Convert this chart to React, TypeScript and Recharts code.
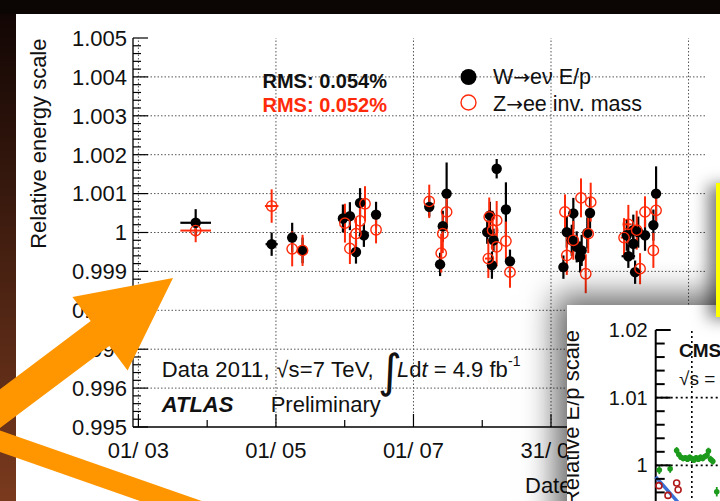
import { ScatterChart, Scatter, XAxis, YAxis, ErrorBar, ReferenceLine } from 'recharts'

const FONT = '"Liberation Sans", Arial, Helvetica, sans-serif'
const RED = '#ff2a0a'
const ORANGE = '#ff9600'

// ATLAS energy-scale stability, x = days since 01/03/2011
const W_DAY = [25.4, 59.1, 68.2, 72.8, 90.7, 93.8, 96.5, 98.3, 100.0, 105.4, 129.0, 136.7, 135.0, 133.8, 158.9, 163.0, 164.8, 154.7, 155.9, 157.5, 156.8, 192.9, 200.3, 190.0, 199.1, 192.2, 194.4, 196.6, 188.5, 195.9, 219.5, 216.6, 221.7, 224.7, 219.5, 217.3, 220.3, 228.4, 229.6]
const W_VAL = [1.00025, 0.9997, 0.99987, 0.99954, 1.00036, 1.00042, 0.9995, 1.00076, 0.99993, 1.00046, 1.00066, 1.001, 1.00016, 0.99918, 1.00164, 1.00059, 0.99926, 1.00001, 1.00044, 0.9998, 0.99916, 1.00049, 1.0005, 1.00001, 0.99999, 0.9998, 0.99963, 0.99954, 0.99911, 0.99937, 1.00006, 0.99993, 1.00001, 0.99993, 0.99971, 0.99939, 0.99898, 1.00019, 1.001]
const W_ERR = [0.00035, 0.0003, 0.00038, 0.00033, 0.00036, 0.00036, 0.0003, 0.00038, 0.0003, 0.00033, 0.00025, 0.0008, 0.0004, 0.0003, 0.00025, 0.0007, 0.0003, 0.0003, 0.00035, 0.0003, 0.00035, 0.0004, 0.0004, 0.0004, 0.0004, 0.0004, 0.0004, 0.0004, 0.0003, 0.0004, 0.0004, 0.0004, 0.0004, 0.0004, 0.0004, 0.0003, 0.0003, 0.0004, 0.0007]
const W_DERR = [6.8, 2.7, 0, 0, 2, 0, 0, 0, 0, 0, 0, 0, 0, 1.5, 0, 0, 0, 0, 0, 0, 0, 0, 0, 0, 0, 0, 0, 0, 1.5, 0, 0, 0, 0, 0, 0, 3, 0, 0, 0]

const Z_DAY = [25.4, 59.1, 68.2, 72.8, 91.6, 93.8, 96.5, 100.5, 98.3, 105.4, 129.0, 136.7, 135.0, 134.3, 163.0, 164.8, 155.6, 157.1, 158.9, 155.2, 158.9, 189.2, 196.3, 200.6, 199.5, 192.9, 190.0, 198.4, 217.3, 215.4, 224.7, 221.0, 228.4, 222.5, 229.6]
const Z_VAL = [1.00005, 1.00068, 0.99958, 0.99954, 1.00024, 0.99959, 0.99997, 1.00074, 1.0003, 1.00007, 1.0008, 1.00053, 0.99997, 0.99947, 0.99978, 0.99898, 1.0004, 1.00006, 0.99963, 0.99933, 1.00031, 1.00053, 1.00089, 1.00078, 0.99997, 0.9998, 0.99941, 0.99894, 1.00021, 0.99987, 1.00053, 1.00006, 0.99954, 0.99907, 1.00057]
const Z_ERR = [0.0003, 0.00043, 0.00045, 0.0004, 0.0005, 0.0004, 0.0004, 0.00045, 0.00045, 0.00035, 0.00043, 0.0005, 0.0005, 0.0005, 0.0005, 0.0004, 0.0005, 0.0005, 0.0005, 0.0005, 0.0005, 0.00045, 0.0005, 0.0005, 0.0005, 0.0005, 0.0005, 0.0005, 0.0005, 0.0005, 0.0004, 0.0005, 0.00045, 0.0004, 0.0004]
const Z_DERR = [6.8, 3, 0, 0, 0, 0, 0, 0, 0, 0, 0, 0, 0, 0, 0, 0, 0, 0, 0, 1.5, 0, 0, 0, 0, 0, 0, 0, 0, 1.5, 1.5, 0, 0, 0, 0, 0]

const Y_MAJOR = [0.995, 0.996, 0.997, 0.998, 0.999, 1.0, 1.001, 1.002, 1.003, 1.004, 1.005]
const Y_LABELS = ['0.995', '0.996', '0.997', '0.998', '0.999', '1', '1.001', '1.002', '1.003', '1.004', '1.005']
const X_MAJOR = [0, 61, 122, 183, 244]
const X_LABELS = ['01/ 03', '01/ 05', '01/ 07', '31/ 08', '31/ 10']

// CMS inset, x = run block index
const CMS_GREEN_X = [1.0, 4.0, 5.8, 6.4, 7.0, 7.6, 8.2, 8.8, 9.4, 10.0, 10.6, 11.2, 11.8, 12.4, 13.0, 13.6, 14.2, 14.6, 15.2, 15.8, 16.9]
const CMS_GREEN_Y = [0.9993, 0.9995, 1.0022, 1.0016, 1.0012, 1.001, 1.0011, 1.0009, 1.0012, 1.001, 1.0008, 1.0011, 1.0009, 1.0012, 1.001, 1.0013, 1.0015, 1.0021, 1.0009, 1.0006, 0.9961]
const CMS_GREEN_ERR = [0.0006, 0.0006, 0.0005, 0.0004, 0.0004, 0.0004, 0.0004, 0.0004, 0.0004, 0.0004, 0.0004, 0.0004, 0.0004, 0.0004, 0.0004, 0.0004, 0.0005, 0.0005, 0.0005, 0.0005, 0.0007]
const CMS_BLUE_X = [0, 5.6, 10]
const CMS_BLUE_Y = [0.9983, 0.9949, 0.9921]
const CMS_RED_X = [0.9, 3.4, 5.8, 6.2]
const CMS_RED_Y = [0.997, 0.99556, 0.9974, 0.9964]
const CMS_Y_MAJOR = [0.99, 1.0, 1.01, 1.02]
const CMS_Y_LABELS = ['0.99', '1', '1.01', '1.02']
const CMS_X_MAJOR = [0, 10, 20, 30, 40, 50, 60, 70, 80, 90, 100]

const wData = W_DAY.map((d, i) => ({ x: d, y: W_VAL[i], ey: W_ERR[i], ex: W_DERR[i] }))
const zData = Z_DAY.map((d, i) => ({ x: d, y: Z_VAL[i], ey: Z_ERR[i], ex: Z_DERR[i] }))
const greenData = CMS_GREEN_X.map((x, i) => ({ x, y: CMS_GREEN_Y[i], ey: CMS_GREEN_ERR[i] }))
const blueData = CMS_BLUE_X.map((x, i) => ({ x, y: CMS_BLUE_Y[i] }))
const cmsRedData = CMS_RED_X.map((x, i) => ({ x, y: CMS_RED_Y[i] }))

// major ticks plus evenly split minor ticks between them
function withMinor(major: number[], parts: number) {
  const out: number[] = []
  for (let i = 0; i < major.length - 1; i++) {
    for (let k = 0; k < parts; k++) out.push(major[i] + ((major[i + 1] - major[i]) * k) / parts)
  }
  out.push(major[major.length - 1])
  return out
}
const idx = (list: number[], v: number) => list.findIndex(m => Math.abs(m - v) < 1e-9)

const Y_TICKS = withMinor(Y_MAJOR, 5)
const X_TICKS = withMinor(X_MAJOR, 2)
const CMS_Y_TICKS = withMinor(CMS_Y_MAJOR, 5)

// ROOT-style ticks: drawn inward from the frame
const atlasLeftTick = (p: any) => {
  const i = idx(Y_MAJOR, p.payload.value)
  return (
    <g>
      <line x1={p.x} y1={p.y} x2={p.x + (i >= 0 ? 15 : 8)} y2={p.y} stroke="#000" strokeWidth={1.2} />
      {i >= 0 && (
        <text x={p.x - 6} y={p.y + 7.8} textAnchor="end" fontSize={22} fontFamily={FONT} fill="#111">
          {Y_LABELS[i]}
        </text>
      )}
    </g>
  )
}
const atlasRightTick = (p: any) => {
  const major = idx(Y_MAJOR, p.payload.value) >= 0
  return <line x1={p.x - (major ? 17 : 9)} y1={p.y} x2={p.x} y2={p.y} stroke="#000" strokeWidth={1.2} />
}
const atlasBottomTick = (p: any) => {
  const i = idx(X_MAJOR, p.payload.value)
  return (
    <g>
      <line x1={p.x} y1={p.y} x2={p.x} y2={p.y - (i >= 0 ? 13 : 7)} stroke="#000" strokeWidth={1.2} />
      {i >= 0 && (
        <text x={p.x} y={p.y + 31} textAnchor="middle" fontSize={22} fontFamily={FONT} fill="#111">
          {X_LABELS[i]}
        </text>
      )}
    </g>
  )
}
const atlasTopTick = (p: any) => {
  const major = idx(X_MAJOR, p.payload.value) >= 0
  return <line x1={p.x} y1={p.y} x2={p.x} y2={p.y + (major ? 13 : 7)} stroke="#000" strokeWidth={1.2} />
}
const cmsLeftTick = (p: any) => {
  const i = idx(CMS_Y_MAJOR, p.payload.value)
  return (
    <g>
      <line x1={p.x} y1={p.y} x2={p.x + (i >= 0 ? 15 : 9)} y2={p.y} stroke="#000" strokeWidth={2} />
      {i >= 0 && (
        <text x={p.x - 8} y={p.y + 7} textAnchor="end" fontSize={20} fontFamily={FONT} fill="#111">
          {CMS_Y_LABELS[i]}
        </text>
      )}
    </g>
  )
}
const cmsTopTick = (p: any) => <line x1={p.x} y1={p.y} x2={p.x} y2={p.y + 14} stroke="#000" strokeWidth={2} />

const blackDot = (p: any) => <circle cx={p.cx} cy={p.cy} r={5.2} fill="#000" />
const redRing = (p: any) => <circle cx={p.cx} cy={p.cy} r={5.2} fill="none" stroke={RED} strokeWidth={1.4} />
const greenDot = (p: any) => <circle cx={p.cx} cy={p.cy} r={2.8} fill="#1c9a1c" />
const darkRedRing = (p: any) => <circle cx={p.cx} cy={p.cy} r={3} fill="none" stroke="#b01a1a" strokeWidth={1.6} />
const noDot = () => <g />

function AtlasChart() {
  return (
    <ScatterChart width={720} height={501} margin={{ top: 38, right: 15, bottom: 0, left: 73 }}>
      <XAxis xAxisId="bottom" type="number" dataKey="x" domain={[-2.4, 251.3]} allowDataOverflow ticks={X_TICKS}
        interval={0} height={74} tickSize={0} tickMargin={0} tickLine={false} tick={atlasBottomTick}
        axisLine={{ stroke: '#000', strokeWidth: 1.3 }} />
      <XAxis xAxisId="top" orientation="top" type="number" dataKey="x" domain={[-2.4, 251.3]} allowDataOverflow
        ticks={X_TICKS} interval={0} height={0} tickSize={0} tickMargin={0} tickLine={false} tick={atlasTopTick}
        axisLine={{ stroke: '#000', strokeWidth: 1.3 }} />
      <YAxis yAxisId="left" type="number" dataKey="y" domain={[0.995, 1.005]} allowDataOverflow ticks={Y_TICKS}
        interval={0} width={60} tickSize={0} tickMargin={0} tickLine={false} tick={atlasLeftTick}
        axisLine={{ stroke: '#000', strokeWidth: 1.3 }} />
      <YAxis yAxisId="right" orientation="right" type="number" dataKey="y" domain={[0.995, 1.005]} allowDataOverflow
        ticks={Y_TICKS} interval={0} width={0} tickSize={0} tickMargin={0} tickLine={false} tick={atlasRightTick}
        axisLine={{ stroke: '#000', strokeWidth: 1.3 }} />
      {Y_MAJOR.slice(1, -1).map(v => (
        <ReferenceLine key={'gy' + v} xAxisId="bottom" yAxisId="left" y={v} stroke="#555" strokeDasharray="1.5 2" />
      ))}
      {X_MAJOR.map(v => (
        <ReferenceLine key={'gx' + v} xAxisId="bottom" yAxisId="left" x={v} stroke="#555" strokeDasharray="1.5 2" />
      ))}
      <Scatter data={wData} xAxisId="bottom" yAxisId="left" shape={blackDot} isAnimationActive={false}>
        <ErrorBar dataKey="ey" direction="y" width={0} stroke="#000" strokeWidth={2.2} />
        <ErrorBar dataKey="ex" direction="x" width={0} stroke="#000" strokeWidth={2.2} />
      </Scatter>
      <Scatter data={zData} xAxisId="bottom" yAxisId="left" shape={redRing} isAnimationActive={false}>
        <ErrorBar dataKey="ey" direction="y" width={0} stroke={RED} strokeWidth={2} />
        <ErrorBar dataKey="ex" direction="x" width={0} stroke={RED} strokeWidth={2} />
      </Scatter>
    </ScatterChart>
  )
}

function CmsChart() {
  return (
    <ScatterChart width={460} height={260} margin={{ top: 25, right: 10, bottom: 0, left: 28.7 }}>
      <XAxis xAxisId="bottom" type="number" dataKey="x" domain={[0, 100]} ticks={CMS_X_MAJOR} interval={0}
        height={32} tick={false} axisLine={{ stroke: '#000', strokeWidth: 2 }} />
      <XAxis xAxisId="top" orientation="top" type="number" dataKey="x" domain={[0, 100]} ticks={CMS_X_MAJOR}
        interval={0} height={0} tickSize={0} tickMargin={0} tickLine={false} tick={cmsTopTick}
        axisLine={{ stroke: '#000', strokeWidth: 2 }} />
      <YAxis yAxisId="left" type="number" dataKey="y" domain={[0.99, 1.02]} allowDataOverflow ticks={CMS_Y_TICKS}
        interval={0} width={60} tickSize={0} tickMargin={0} tickLine={false} tick={cmsLeftTick}
        axisLine={{ stroke: '#000', strokeWidth: 2 }} />
      {CMS_Y_MAJOR.slice(1, -1).map(v => (
        <ReferenceLine key={'cy' + v} xAxisId="bottom" yAxisId="left" y={v} stroke="#000" strokeWidth={1.6} strokeDasharray="2 3" />
      ))}
      {CMS_X_MAJOR.slice(1, -1).map(v => (
        <ReferenceLine key={'cx' + v} xAxisId="bottom" yAxisId="left" x={v} stroke="#000" strokeWidth={1.6} strokeDasharray="2 3" />
      ))}
      <Scatter data={blueData} xAxisId="bottom" yAxisId="left" line={{ stroke: '#3a6fd6', strokeWidth: 3.5 }}
        shape={noDot} isAnimationActive={false} />
      <Scatter data={cmsRedData} xAxisId="bottom" yAxisId="left" shape={darkRedRing} isAnimationActive={false} />
      <Scatter data={greenData} xAxisId="bottom" yAxisId="left" shape={greenDot} isAnimationActive={false}>
        <ErrorBar dataKey="ey" direction="y" width={0} stroke="#1c9a1c" strokeWidth={1.8} />
      </Scatter>
    </ScatterChart>
  )
}

export default function App() {
  return (
    <div style={{ position: 'absolute', left: 0, top: 0, width: 720, height: 501, overflow: 'hidden', background: '#0b0604', fontFamily: FONT }}>
      <div style={{ position: 'absolute', left: 0, top: 14, width: 16, height: 487, background: 'linear-gradient(to bottom, #120604, #7a3a1e)' }} />
      <div style={{ position: 'absolute', left: 16, top: 14, right: 0, bottom: 0, background: '#fff' }} />

      <div style={{ position: 'absolute', left: 0, top: 0 }}>
        <AtlasChart />
      </div>

      {/* labels and legend of the ATLAS plot */}
      <svg width={720} height={501} style={{ position: 'absolute', left: 0, top: 0, pointerEvents: 'none' }} fontFamily={FONT}>
        <text transform="translate(46,38.5) rotate(-90)" textAnchor="end" fontSize={22} fill="#111">Relative energy scale</text>
        <text x={262.5} y={88.3} fontSize={20} fontWeight="bold" fill="#111">RMS: 0.054%</text>
        <text x={262.5} y={111.7} fontSize={20} fontWeight="bold" fill={RED}>RMS: 0.052%</text>
        <circle cx={468.5} cy={77} r={8} fill="#000" />
        <circle cx={468.5} cy={102.5} r={7.5} fill="none" stroke={RED} strokeWidth={1.4} />
        <text x={493} y={84} fontSize={21.5} fill="#111">
          W<tspan fontFamily="DejaVu Sans" fontSize={20}>→</tspan>eν E/p
        </text>
        <text x={493} y={110.5} fontSize={21.5} fill="#111">
          Z<tspan fontFamily="DejaVu Sans" fontSize={20}>→</tspan>ee inv. mass
        </text>
        <text x={161.7} y={376.7} fontSize={22} fill="#111" textLength={212} lengthAdjust="spacing">Data 2011, √s=7 TeV,</text>
        <text x={378} y={387} fontSize={46} fontFamily="DejaVu Sans" fill="#111">∫</text>
        <text x={397} y={376.7} fontSize={22} fill="#111">
          <tspan fontStyle="italic">L</tspan>d<tspan fontStyle="italic">t</tspan> = 4.9 fb
        </text>
        <text x={508} y={366} fontSize={14} fill="#111">-1</text>
        <text x={161.7} y={411.7} fontSize={22} fontWeight="bold" fontStyle="italic" fill="#111">ATLAS</text>
        <text x={270.7} y={411.7} fontSize={22} fill="#111">Preliminary</text>
        <text x={525} y={493.3} fontSize={22} fill="#111">Date</text>
      </svg>

      {/* CMS plot pasted on top */}
      <div style={{ position: 'absolute', left: 567, top: 305, width: 200, height: 240, background: '#fff', overflow: 'hidden', boxShadow: '-12px -10px 30px rgba(0,0,0,0.6)' }}>
        <CmsChart />
        <svg width={200} height={240} style={{ position: 'absolute', left: 0, top: 0, pointerEvents: 'none' }} fontFamily={FONT}>
          <text transform="translate(12,25) rotate(-90)" textAnchor="end" fontSize={22} fill="#111">Relative E/p scale</text>
          <text x={112} y={51.7} fontSize={19} fontWeight="bold" fill="#111">CMS</text>
          <text x={112} y={80} fontSize={19} fill="#111">√s =</text>
        </svg>
      </div>

      <div style={{ position: 'absolute', left: 716, top: 183, width: 30, height: 134, background: '#ffff00', boxShadow: '-8px 2px 16px rgba(0,0,0,0.5)' }} />

      <svg width={720} height={501} style={{ position: 'absolute', left: 0, top: 0, pointerEvents: 'none' }}>
        <polygon points="173,278 72.4,297 90.7,321.1 -69.3,441.1 -50.7,465.9 109.3,345.9 127.6,370.5" fill={ORANGE} />
        <polygon points="-20,423.4 260,521.4 260,543 -20,445" fill={ORANGE} />
      </svg>
    </div>
  )
}
